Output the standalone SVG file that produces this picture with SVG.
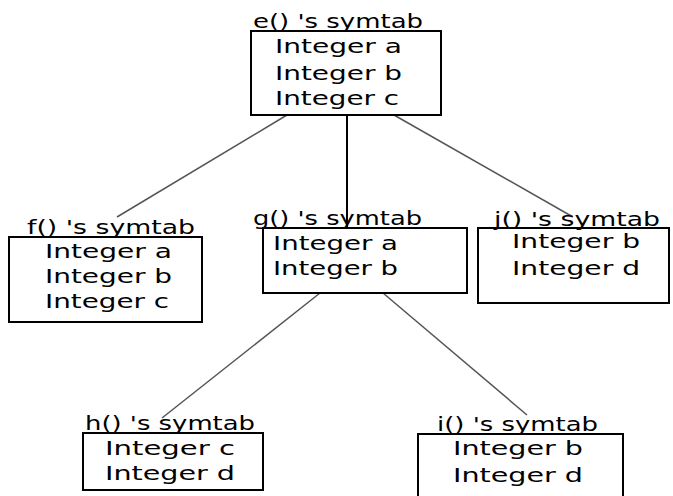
<svg xmlns="http://www.w3.org/2000/svg" width="673" height="496" viewBox="0 0 673 496">
<style>
.box{fill:#fff;stroke:#000;stroke-width:2}
.t{font-family:"DejaVu Sans",sans-serif;font-size:20px;fill:#000}
.c{stroke:#555;stroke-width:1.5;fill:none}
.v{stroke:#000;stroke-width:2;fill:none}
</style>
<rect width="673" height="496" fill="#fff"/>
<g id="connectors">
<line class="c" x1="287" y1="115" x2="117" y2="217"/>
<line class="v" x1="347" y1="115" x2="347" y2="228"/>
<line class="c" x1="394" y1="115" x2="573" y2="217"/>
<line class="c" x1="320" y1="293" x2="162" y2="418"/>
<line class="c" x1="383" y1="293" x2="527" y2="415"/>
</g>
<g id="e">
<rect class="box" x="251" y="31" width="190" height="84"/>
<text class="t" x="253" y="28" textLength="170" lengthAdjust="spacingAndGlyphs">e() 's symtab</text>
<text class="t" x="275" y="53" textLength="127" lengthAdjust="spacingAndGlyphs">Integer a</text>
<text class="t" x="275" y="80" textLength="127" lengthAdjust="spacingAndGlyphs">Integer b</text>
<text class="t" x="275" y="105" textLength="124" lengthAdjust="spacingAndGlyphs">Integer c</text>
</g>
<g id="f">
<rect class="box" x="9" y="237" width="193" height="85"/>
<text class="t" x="27" y="234" textLength="168" lengthAdjust="spacingAndGlyphs">f() 's symtab</text>
<text class="t" x="45" y="258" textLength="127" lengthAdjust="spacingAndGlyphs">Integer a</text>
<text class="t" x="45" y="283" textLength="127" lengthAdjust="spacingAndGlyphs">Integer b</text>
<text class="t" x="45" y="308" textLength="124" lengthAdjust="spacingAndGlyphs">Integer c</text>
</g>
<g id="g">
<rect class="box" x="263" y="228" width="204" height="65"/>
<text class="t" x="253" y="225" textLength="169" lengthAdjust="spacingAndGlyphs">g() 's symtab</text>
<text class="t" x="273" y="250" textLength="125" lengthAdjust="spacingAndGlyphs">Integer a</text>
<text class="t" x="273" y="275" textLength="125" lengthAdjust="spacingAndGlyphs">Integer b</text>
</g>
<g id="j">
<rect class="box" x="478" y="228" width="191" height="75"/>
<text class="t" x="494" y="226" textLength="166" lengthAdjust="spacingAndGlyphs">j() 's symtab</text>
<text class="t" x="512" y="248" textLength="128" lengthAdjust="spacingAndGlyphs">Integer b</text>
<text class="t" x="512" y="275" textLength="128" lengthAdjust="spacingAndGlyphs">Integer d</text>
</g>
<g id="h">
<rect class="box" x="83" y="433" width="180" height="57"/>
<text class="t" x="85" y="430" textLength="170" lengthAdjust="spacingAndGlyphs">h() 's symtab</text>
<text class="t" x="105" y="455" textLength="130" lengthAdjust="spacingAndGlyphs">Integer c</text>
<text class="t" x="105" y="480" textLength="130" lengthAdjust="spacingAndGlyphs">Integer d</text>
</g>
<g id="i">
<rect class="box" x="418" y="434" width="205" height="70"/>
<text class="t" x="437" y="431" textLength="161" lengthAdjust="spacingAndGlyphs">i() 's symtab</text>
<text class="t" x="453" y="455" textLength="130" lengthAdjust="spacingAndGlyphs">Integer b</text>
<text class="t" x="453" y="482" textLength="130" lengthAdjust="spacingAndGlyphs">Integer d</text>
</g>
</svg>
